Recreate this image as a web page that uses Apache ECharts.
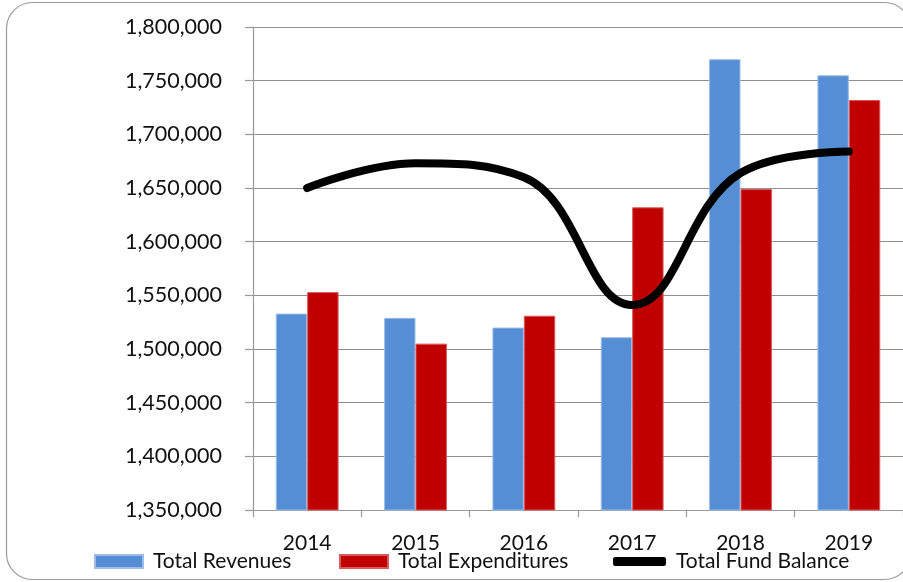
<!DOCTYPE html>
<html>
<head>
<meta charset="utf-8">
<script src="https://cdn.jsdelivr.net/npm/echarts@6/dist/echarts.min.js"></script>
<style>
  html, body { margin: 0; padding: 0; background: #ffffff; }
  #chart { width: 903px; height: 582px; }
</style>
</head>
<body>
<div id="chart"></div>
<script>
// Fiscal years on the category axis
const years = ['2014', '2015', '2016', '2017', '2018', '2019'];

// Annual totals (dollars)
const totalRevenues     = [1533000, 1529000, 1520000, 1511000, 1770000, 1755000];
const totalExpenditures = [1553000, 1505000, 1531000, 1632000, 1649000, 1732000];
const totalFundBalance  = [1650000, 1673000, 1660000, 1541000, 1664000, 1684000];

// Value axis range and step
const yMin = 1350000;
const yMax = 1800000;
const yStep = 50000;

const FONT = 'Lato, "Open Sans", sans-serif';
const TEXT = '#111111';

const chart = echarts.init(document.getElementById('chart'), null, { renderer: 'canvas' });

const legendText = { fontFamily: FONT, fontSize: 21, color: TEXT, padding: [0, 0, 0, 5] };

chart.setOption({
  animation: false,
  backgroundColor: '#ffffff',
  graphic: [{
    type: 'rect',
    silent: true,
    z: -1,
    shape: { x: 6.5, y: 2.5, width: 904, height: 577, r: 26 },
    style: { fill: 'none', stroke: '#9a9a9a', lineWidth: 1.2 }
  }],
  legend: [
    {
      data: [{ name: 'Total Revenues', icon: 'rect' }],
      left: 94, top: 551,
      itemWidth: 48, itemHeight: 13, itemGap: 0,
      textStyle: legendText, padding: 0
    },
    {
      data: [{ name: 'Total Expenditures', icon: 'rect' }],
      left: 339, top: 551,
      itemWidth: 48, itemHeight: 13, itemGap: 0,
      textStyle: legendText, padding: 0
    },
    {
      data: [{ name: 'Total Fund Balance', icon: 'roundRect' }],
      left: 613, top: 551,
      itemWidth: 53, itemHeight: 9, itemGap: 0,
      itemStyle: { color: '#000000', borderWidth: 0 },
      textStyle: legendText, padding: 0
    }
  ],
  grid: { left: 253, right: -2, top: 27, bottom: 72, containLabel: false },
  xAxis: {
    type: 'category',
    data: years,
    boundaryGap: true,
    axisLine: { show: true, lineStyle: { color: '#9a9a9a', width: 1.2 } },
    axisTick: { show: true, alignWithLabel: false, length: 7, lineStyle: { color: '#9a9a9a', width: 1.2 } },
    axisLabel: { fontFamily: FONT, fontSize: 21, color: TEXT, margin: 23 },
    splitLine: { show: false }
  },
  yAxis: {
    type: 'value',
    min: yMin,
    max: yMax,
    interval: yStep,
    axisLine: { show: true, lineStyle: { color: '#9a9a9a', width: 1.2 } },
    axisTick: { show: true, length: 8, lineStyle: { color: '#9a9a9a', width: 1.2 } },
    axisLabel: {
      fontFamily: FONT, fontSize: 21.5, color: TEXT, margin: 31,
      formatter: v => v.toLocaleString('en-US')
    },
    splitLine: { show: true, lineStyle: { color: '#8f8f8f', width: 1.2 } }
  },
  series: [
    {
      name: 'Total Revenues',
      type: 'bar',
      data: totalRevenues,
      barGap: '0%',
      barCategoryGap: '42%',
      itemStyle: { color: '#558ED5', borderColor: '#9dbde6', borderWidth: 1 }
    },
    {
      name: 'Total Expenditures',
      type: 'bar',
      data: totalExpenditures,
      barGap: '0%',
      barCategoryGap: '42%',
      itemStyle: { color: '#C00000', borderColor: '#d95a5a', borderWidth: 1 }
    },
    {
      name: 'Total Fund Balance',
      type: 'line',
      data: totalFundBalance,
      smooth: 0.42,
      symbol: 'none',
      z: 5,
      lineStyle: { color: '#000000', width: 8, cap: 'round', join: 'round' },
      itemStyle: { color: '#000000' }
    }
  ]
});
</script>
</body>
</html>
